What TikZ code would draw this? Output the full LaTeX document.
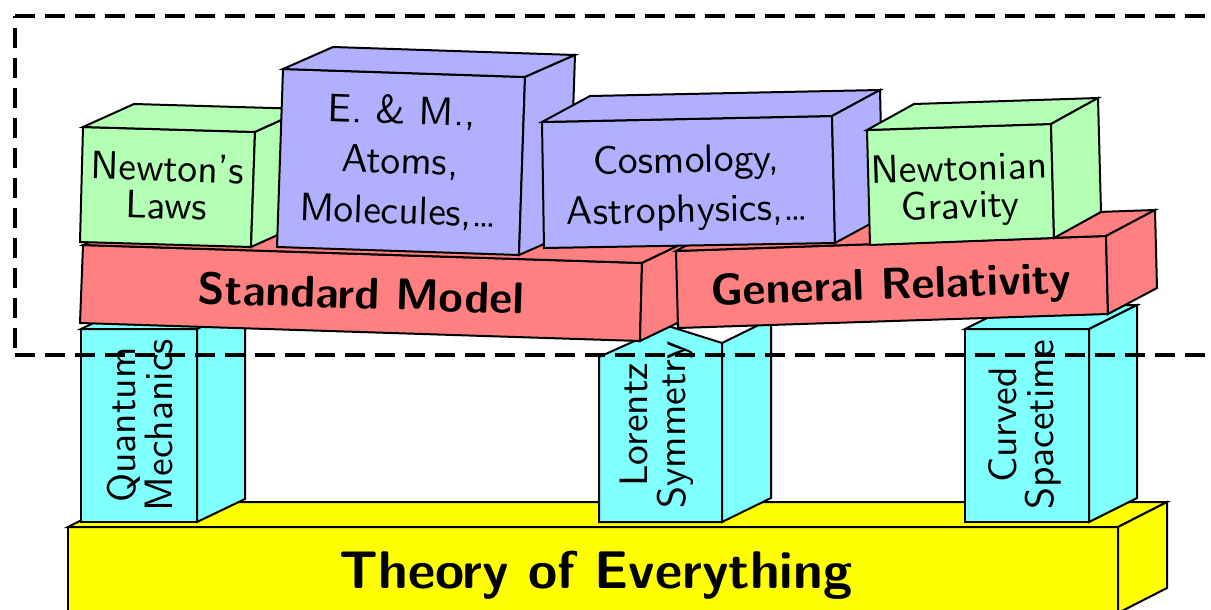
\documentclass[tikz,border=0pt]{standalone}
\usetikzlibrary{calc}
\definecolor{cgreen}{RGB}{179,255,179}
\definecolor{cblue}{RGB}{176,176,255}
\definecolor{cred}{RGB}{255,128,128}
\definecolor{ccyan}{RGB}{128,255,255}
\definecolor{cyellow}{RGB}{255,255,0}
\tikzset{
  face/.style={draw=black, line width=0.5pt, line join=miter},
  lbl/.style={font=\sffamily\fontsize{9.9}{9.4}\selectfont, align=center, inner sep=0pt},
  lblwide/.style={font=\sffamily\fontsize{9.9}{12.5}\selectfont, align=center, inner sep=0pt},
  boldlbl/.style={font=\sffamily\bfseries\fontsize{11.1}{13}\selectfont, inner sep=0pt},
  biglbl/.style={font=\sffamily\bfseries\fontsize{13.25}{15}\selectfont, inner sep=0pt},
  frame/.style={draw=black, line width=0.8pt, dash pattern=on 5pt off 2.5pt},
}
\newcommand{\cuboid}[6]{%
  \filldraw[face,fill=#1] #2 -- #3 -- #4 -- #5 -- cycle;
  \filldraw[face,fill=#1] #2 -- #3 -- ($#3+#6$) -- ($#2+#6$) -- cycle;
  \filldraw[face,fill=#1] #3 -- #4 -- ($#4+#6$) -- ($#3+#6$) -- cycle;
}
\begin{document}
\begin{tikzpicture}[x=0.25pt,y=-0.25pt]
\useasboundingbox (0,0) rectangle (1211,610);
\clip (0,0) rectangle (1211,610);
% base
\cuboid{cyellow}{(68,527)}{(1118,527)}{(1118,613)}{(68,613)}{(49,-25)}
\node[biglbl] (toe) at (596,575) {Theory of Everything};
% pillars
\cuboid{ccyan}{(81,329)}{(197,329)}{(197,522)}{(81,522)}{(48,-23)}
\node[lbl, rotate=90] (qm) at (140,425) {Quantum\\Mechanics};
\filldraw[face,fill=ccyan] (599,357) -- (668,326) -- (722,343) -- (722,522) -- (599,522) -- cycle;
\filldraw[face,fill=ccyan] (722,343) -- (771,319) -- (771,498) -- (722,522) -- cycle;
\node[lbl, rotate=90] (lor) at (657,425) {Lorentz\\Symmetry};
\cuboid{ccyan}{(965,329)}{(1089,329)}{(1089,522)}{(965,522)}{(48,-24)}
\node[lbl, rotate=90] (cs) at (1025,425) {Curved\\Spacetime};
% slabs
\cuboid{cred}{(83,245)}{(642,263)}{(640,341)}{(80,323)}{(50,-24)}
\node[boldlbl, rotate=-1.8] (sm) at (361,293.5) {Standard Model};
\cuboid{cred}{(676,251)}{(1106,236)}{(1108,314)}{(678,328)}{(49,-26)}
\node[boldlbl, rotate=2] (gr) at (891,288) {General Relativity};
% top blocks
\cuboid{cgreen}{(83,127)}{(255,132)}{(251,247)}{(80,242)}{(51,-23)}
\node[lbl, rotate=-1.7] (nl) at (167,186.5) {Newton’s\\Laws};
\cuboid{cblue}{(283,69)}{(525,77)}{(519,255)}{(277,247)}{(50,-22)}
\node[lblwide, rotate=-1.9] (em) at (400,162) {E. \& M.,\\Atoms,\\Molecules,\ldots};
\cuboid{cblue}{(542,122)}{(832,116)}{(835,243)}{(544,248)}{(48,-26)}
\node[lblwide, rotate=1.2] (cos) at (687,187.5) {Cosmology,\\Astrophysics,\ldots};
\cuboid{cgreen}{(867,130)}{(1051,124)}{(1054,238)}{(870,245)}{(47,-26)}
\node[lbl, rotate=1.9] (ng) at (960,190) {Newtonian\\Gravity};
% dashed frame
\draw[frame] (15,16) -- (1260,16);
\draw[frame] (15,355) -- (1260,355);
\draw[frame, dash phase=4.5pt] (15,16) -- (15,355);
\end{tikzpicture}
\end{document}
